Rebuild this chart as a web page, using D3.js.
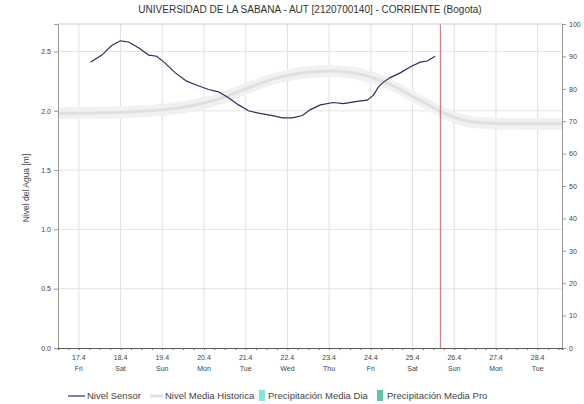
<!DOCTYPE html>
<html>
<head>
<meta charset="utf-8">
<script src="https://cdn.jsdelivr.net/npm/d3@7"></script>
<style>
  body { margin: 0; background: #fff; }
  svg { display: block; font-family: "Liberation Sans", Arial, sans-serif; }
</style>
</head>
<body>
<svg id="chart" width="584" height="404"></svg>
<script>
// data - hours after 17.4.2015 00:00
const sensorHours = [6.7, 13.2, 18.9, 23.9, 28.7, 34.5, 40.2, 44.8, 49.8, 55.5, 62.0, 67.2, 74.6, 80.4, 86.1, 91.9, 97.6, 103.4, 111.4, 117.1, 122.9, 128.6, 133.2, 139.0, 146.4, 152.2, 160.2, 165.9, 169.4, 172.3, 175.1, 179.1, 184.9, 190.6, 196.4, 200.4, 205.0];
const sensorLevel = [2.41, 2.47, 2.55, 2.59, 2.58, 2.53, 2.47, 2.46, 2.40, 2.32, 2.25, 2.22, 2.18, 2.16, 2.11, 2.05, 2.00, 1.98, 1.96, 1.94, 1.94, 1.96, 2.01, 2.05, 2.07, 2.06, 2.08, 2.09, 2.13, 2.20, 2.24, 2.28, 2.32, 2.37, 2.41, 2.42, 2.46];
const histHours = [-12, 12.6, 47.1, 70.1, 87.3, 104.5, 121.7, 139.0, 156.2, 167.7, 179.1, 190.6, 199.2, 207.9, 216.5, 225.1, 242.3, 278];
const histLevel = [1.98, 1.98, 2.00, 2.05, 2.13, 2.24, 2.31, 2.34, 2.33, 2.29, 2.23, 2.13, 2.07, 1.99, 1.94, 1.90, 1.89, 1.89];
const dayLabels = ["17.4", "18.4", "19.4", "20.4", "21.4", "22.4", "23.4", "24.4", "25.4", "26.4", "27.4", "28.4"];
const dayNames = ["Fri", "Sat", "Sun", "Mon", "Tue", "Wed", "Thu", "Fri", "Sat", "Sun", "Mon", "Tue"];
const levelTicks = [0.0, 0.5, 1.0, 1.5, 2.0, 2.5];
const rainTicks = [0, 10, 20, 30, 40, 50, 60, 70, 80, 90, 100];
const nowHour = 208; // linea roja
const legendNames = ["Nivel Sensor", "Nivel Media Historica", "Precipitación Media Dia", "Precipitación Media Pro"];

const t0 = new Date(2015, 3, 17, 0, 0);
const toDate = h => new Date(t0.getTime() + h * 3600000);

const pLeft = 58, pRight = 562, pTop = 24, pBottom = 348;
const svg = d3.select("#chart");

const x = d3.scaleTime()
    .domain([toDate(-12), toDate(278)])
    .range([pLeft, pRight]);
const y = d3.scaleLinear().domain([0, 2.732]).range([pBottom, pTop]);
const y2 = d3.scaleLinear().domain([0, 100]).range([pBottom, pTop]);

// title
svg.append("text")
    .attr("x", 310).attr("y", 13)
    .attr("text-anchor", "middle")
    .attr("font-size", 10)
    .attr("fill", "#333")
    .text("UNIVERSIDAD DE LA SABANA - AUT  [2120700140] - CORRIENTE (Bogota)");

// grid
const days = dayLabels.map((d, i) => toDate(i * 24));
svg.append("g").selectAll("line").data(days).join("line")
    .attr("x1", d => x(d)).attr("x2", d => x(d))
    .attr("y1", pTop).attr("y2", pBottom)
    .attr("stroke", "#e0e0e0").attr("stroke-width", 1);
svg.append("g").selectAll("line").data(levelTicks.slice(1)).join("line")
    .attr("x1", pLeft).attr("x2", pRight)
    .attr("y1", d => y(d)).attr("y2", d => y(d))
    .attr("stroke", "#e4e4e4").attr("stroke-width", 1);

// historico
const hist = histHours.map((h, i) => ({ t: toDate(h), v: histLevel[i] }));
const band = d3.area().curve(d3.curveBasis)
    .x(d => x(d.t)).y0(d => y(d.v - 0.05)).y1(d => y(d.v + 0.05));
svg.append("path").datum(hist)
    .attr("d", band).attr("fill", "#f1f1f1");
svg.append("path").datum(hist)
    .attr("d", d3.line().curve(d3.curveBasis).x(d => x(d.t)).y(d => y(d.v)))
    .attr("fill", "none").attr("stroke", "#e0e0e0").attr("stroke-width", 3);

// sensor
const sensor = sensorHours.map((h, i) => ({ t: toDate(h), v: sensorLevel[i] }));
svg.append("path").datum(sensor)
    .attr("d", d3.line().x(d => x(d.t)).y(d => y(d.v)))
    .attr("fill", "none").attr("stroke", "#2a2f5a").attr("stroke-width", 1.2);

// linea actual
svg.append("line")
    .attr("x1", x(toDate(nowHour))).attr("x2", x(toDate(nowHour)))
    .attr("y1", pTop).attr("y2", pBottom)
    .attr("stroke", "#d8606c").attr("stroke-width", 1);

// frame
svg.append("line").attr("x1", pLeft).attr("x2", pRight).attr("y1", pTop).attr("y2", pTop)
    .attr("stroke", "#cfcfcf");

// axes
const yAxis = svg.append("g").attr("transform", `translate(${pLeft},0)`)
    .call(d3.axisLeft(y).tickValues(levelTicks).tickFormat(d3.format(".1f")).tickSize(4));
const y2Axis = svg.append("g").attr("transform", `translate(${pRight},0)`)
    .call(d3.axisRight(y2).tickValues(rainTicks).tickSize(4));
const xAxis = svg.append("g").attr("transform", `translate(0,${pBottom})`)
    .call(d3.axisBottom(x).ticks(d3.timeHour.every(6)).tickFormat("").tickSize(2));
xAxis.selectAll(".tick line").attr("stroke", "#666");

[yAxis, y2Axis].forEach(g => {
    g.select(".domain").attr("stroke", "#999");
    g.selectAll(".tick line").attr("stroke", "#999");
    g.selectAll("text").attr("font-size", 7).attr("fill", "#444")
        .attr("font-family", "Liberation Sans, Arial, sans-serif");
});
xAxis.select(".domain").attr("stroke", "#555").attr("stroke-width", 1.2);

// x labels
const xl = svg.append("g");
xl.selectAll("text.d").data(days).join("text").attr("class", "d")
    .attr("x", d => x(d)).attr("y", 360)
    .attr("text-anchor", "middle").attr("font-size", 7).attr("fill", "#444")
    .text((d, i) => dayLabels[i]);
xl.selectAll("text.n").data(days).join("text").attr("class", "n")
    .attr("x", d => x(d)).attr("y", 371)
    .attr("text-anchor", "middle").attr("font-size", 7).attr("fill", "#444")
    .text((d, i) => dayNames[i]);

// y title
svg.append("text")
    .attr("transform", "translate(29,188) rotate(-90)")
    .attr("text-anchor", "middle").attr("font-size", 8.5).attr("fill", "#444")
    .text("Nivel del Agua [m]");

// legend
const lg = svg.append("g").attr("font-size", 9.5).attr("fill", "#444");
lg.append("line").attr("x1", 68).attr("x2", 85).attr("y1", 396).attr("y2", 396)
    .attr("stroke", "#2a2f5a").attr("stroke-width", 1.2);
lg.append("text").attr("x", 87).attr("y", 399).text(legendNames[0]);
lg.append("line").attr("x1", 150).attr("x2", 163).attr("y1", 396).attr("y2", 396)
    .attr("stroke", "#e0e0e0").attr("stroke-width", 3);
lg.append("text").attr("x", 165).attr("y", 399).text(legendNames[1]);
lg.append("rect").attr("x", 259).attr("y", 390).attr("width", 6).attr("height", 11)
    .attr("fill", "#7fe6dc");
lg.append("text").attr("x", 268).attr("y", 399).text(legendNames[2]);
lg.append("rect").attr("x", 377).attr("y", 390).attr("width", 6).attr("height", 11)
    .attr("fill", "#5ec4a8");
lg.append("text").attr("x", 387).attr("y", 399).text(legendNames[3]);
</script>
</body>
</html>
